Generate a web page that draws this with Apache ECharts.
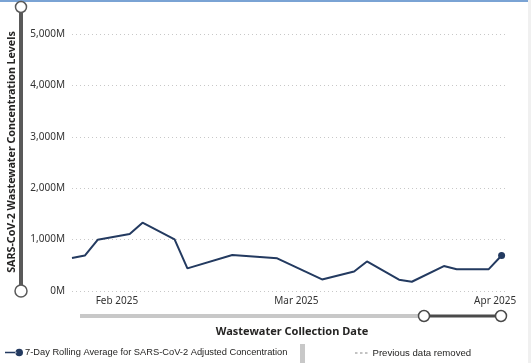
<!DOCTYPE html>
<html><head><meta charset="utf-8">
<script src="https://cdn.jsdelivr.net/npm/echarts@6/dist/echarts.min.js"></script>
<style>html,body{margin:0;padding:0;background:#fff}#c{width:531px;height:363px}</style>
</head><body><div id="c"></div>
<script>
var dates = ['2025-01-25','2025-01-27','2025-01-29','2025-02-03','2025-02-05','2025-02-10','2025-02-12','2025-02-19','2025-02-26','2025-03-05','2025-03-10','2025-03-12','2025-03-17','2025-03-19','2025-03-24','2025-03-26','2025-03-31','2025-04-02'];
var values = [640, 690, 995, 1110, 1330, 1005, 440, 700, 635, 225, 380, 575, 220, 180, 485, 425, 425, 690];
var monthTicks = ['2025-02-01','2025-03-01','2025-04-01'];
var monthLabels = ['Feb 2025','Mar 2025','Apr 2025'];
var yTicks = [0,1000,2000,3000,4000,5000];
var seriesName = '7-Day Rolling Average for SARS-CoV-2 Adjusted Concentration';
var removedName = 'Previous data removed';

var FONT = 'Noto Sans';
var LFONT = 'Liberation Sans';
function ts(d){ return new Date(d + 'T00:00:00Z').getTime(); }
var tickTs = monthTicks.map(ts);
var last = dates.length - 1;
var data = dates.map(function(d,i){ return {value:[ts(d), values[i]], symbolSize: i===last ? 7 : 0}; });

var chart = echarts.init(document.getElementById('c'), null, {renderer:'canvas'});
chart.setOption({
  animation:false,
  backgroundColor:'#fff',
  grid:{left:72, right:23, top:34, bottom:72, containLabel:false},
  xAxis:{
    type:'value',
    min: ts('2025-01-25'),
    max: ts('2025-04-03'),
    axisLine:{show:false},
    axisTick:{show:false},
    splitLine:{show:false},
    axisLabel:{
      customValues: tickTs,
      formatter:function(v){ var i = tickTs.indexOf(v); return i>=0 ? monthLabels[i] : ''; },
      color:'#333', fontFamily:FONT, fontSize:10, margin:5, hideOverlap:false
    }
  },
  yAxis:{
    type:'value', min:yTicks[0], max:yTicks[yTicks.length-1], interval:1000,
    axisLine:{show:false}, axisTick:{show:false},
    splitLine:{show:true, lineStyle:{type:[1,3], color:'#c8c8c8', width:1}},
    axisLabel:{formatter:function(v){ return v.toLocaleString('en-US') + 'M'; }, color:'#333', fontFamily:FONT, fontSize:10, margin:7}
  },
  legend:[
    {data:[{name:seriesName, icon:'path://M0,3.3h12v1.4h-12z M11,4a4,4 0 1,0 8,0a4,4 0 1,0 -8,0z'}],
     left:5, top:348, itemWidth:18, itemHeight:8, itemGap:2, padding:0,
     textStyle:{fontFamily:LFONT, fontSize:9.3, color:'#252423', padding:[0,0,0,-3]}, selectedMode:false},
    {data:[{name:removedName, icon:'path://M0,0h2.5v1h-2.5z M5,0h2.5v1h-2.5z M10,0h2.5v1h-2.5z'}],
     left:355, top:348, itemWidth:12.5, itemHeight:1, itemGap:5, padding:0,
     textStyle:{fontFamily:LFONT, fontSize:9.6, color:'#252423'}, selectedMode:false}
  ],
  series:[
    {name:seriesName, type:'line', data:data, symbol:'circle', symbolSize:7,
     lineStyle:{color:'#233a60', width:2}, itemStyle:{color:'#233a60'}, z:5},
    {name:removedName, type:'line', data:[], symbol:'none',
     lineStyle:{color:'#777', width:1, type:[2,3]}, itemStyle:{color:'#888'}}
  ],
  graphic:[
    {type:'rect', shape:{x:0,y:0,width:528,height:2}, style:{fill:'#7aa3d4'}},
    {type:'rect', shape:{x:528,y:0,width:3,height:363}, style:{fill:'#f0f0f0'}},
    {type:'text', x:12, y:152, rotation:Math.PI/2,
     style:{text:'SARS-CoV-2 Wastewater Concentration Levels', fontFamily:FONT, fontSize:10.7, fontWeight:'bold', fill:'#252423', align:'center', verticalAlign:'middle'}},
    {type:'text', x:292, y:332,
     style:{text:'Wastewater Collection Date', fontFamily:FONT, fontSize:11, fontWeight:'bold', fill:'#252423', align:'center', verticalAlign:'middle'}},
    {type:'line', shape:{x1:21,y1:7,x2:21,y2:291}, style:{stroke:'#595959', lineWidth:4}},
    {type:'circle', shape:{cx:21,cy:7,r:5.5}, style:{fill:'#fff', stroke:'#595959', lineWidth:1.5}},
    {type:'circle', shape:{cx:21,cy:291,r:6}, style:{fill:'#fff', stroke:'#595959', lineWidth:1.5}},
    {type:'line', shape:{x1:80,y1:316,x2:424,y2:316}, style:{stroke:'#c8c8c8', lineWidth:4}},
    {type:'line', shape:{x1:424,y1:316,x2:501,y2:316}, style:{stroke:'#4a4a4a', lineWidth:3}},
    {type:'circle', shape:{cx:424,cy:316,r:5.5}, style:{fill:'#fff', stroke:'#4a4a4a', lineWidth:1.5}},
    {type:'circle', shape:{cx:501,cy:316,r:5.5}, style:{fill:'#fff', stroke:'#4a4a4a', lineWidth:1.5}},
    {type:'rect', shape:{x:300,y:344,width:5,height:19}, style:{fill:'#c8c8c8'}}
  ]
});
</script></body></html>
